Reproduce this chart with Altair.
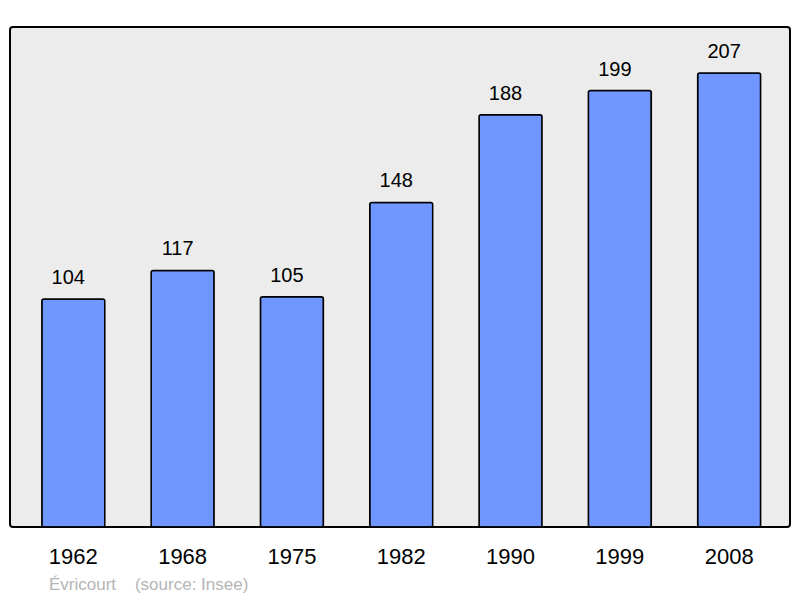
import altair as alt
import pandas as pd

years = ["1962", "1968", "1975", "1982", "1990", "1999", "2008"]
population = [104, 117, 105, 148, 188, 199, 207]

df = pd.DataFrame({"year": years, "pop": population})

FONT = "Liberation Sans"

x = alt.X("year:N", sort=years, title=None,
          scale=alt.Scale(paddingInner=0.424, paddingOuter=0.28, align=0.52),
          axis=alt.Axis(labelAngle=0, ticks=False, domain=False, labelFontSize=22,
                        labelFont=FONT, labelColor="#000", labelPadding=19))
y = alt.Y("pop:Q", title=None, scale=alt.Scale(domain=[0, 228], nice=False),
          axis=None)

bars = alt.Chart(df).mark_bar(color="#7096ff", stroke="#000", strokeWidth=1.5,
                              cornerRadius=2).encode(x=x, y=y)
labels = alt.Chart(df).mark_text(fontSize=20, font=FONT, color="#000",
                                 baseline="alphabetic", dy=-15, dx=-5).encode(
    x=x, y=y, text="pop:Q")

footer = "Évricourt\u00a0\u00a0\u00a0\u00a0(source: Insee)"

chart = (bars + labels).properties(
    width=780, height=500,
    padding={"left": 2, "top": 19, "right": 2, "bottom": 70},
    autosize=alt.AutoSizeParams(type="none"),
    title=alt.TitleParams(footer, orient="bottom",
                          anchor="start", dx=39, offset=10, fontSize=17,
                          font=FONT, color="#b4b4b4", fontWeight="normal"),
).configure_view(fill="#ececec", stroke="#000", strokeWidth=2, cornerRadius=3)

chart.save("out.html", embed_options={"renderer": "svg", "actions": False})
